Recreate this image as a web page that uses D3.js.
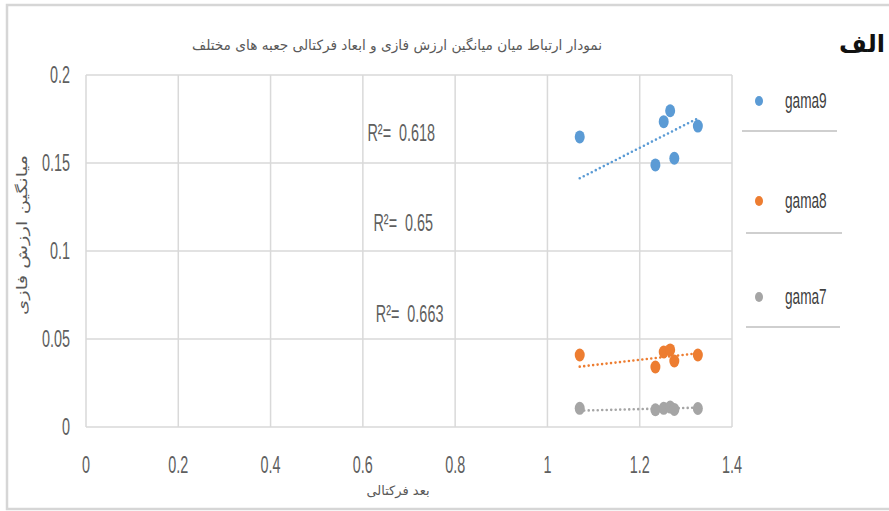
<!DOCTYPE html>
<html>
<head>
<meta charset="utf-8">
<script src="https://cdn.jsdelivr.net/npm/d3@7"></script>
<style>
  body { margin: 0; background: #fff; }
  svg { display: block; }
  .pre { white-space: pre; }
</style>
</head>
<body>
<div id="chart"></div>
<script>
// data
var seriesNames = ["gama9", "gama8", "gama7"];
var seriesColors = ["#5B9BD5", "#ED7D31", "#A5A5A5"];

var fractalDim = [1.070, 1.234, 1.252, 1.266, 1.275, 1.326];
var gama9 = [0.1648, 0.1489, 0.1735, 0.1797, 0.1527, 0.1710];
var gama8 = [0.0409, 0.0341, 0.0426, 0.0438, 0.0375, 0.0409];
var gama7 = [0.0106, 0.0098, 0.0106, 0.0113, 0.0100, 0.0105];

// trendline ends as drawn (x start/end, y start/end)
var trendX = [1.07, 1.326];
var trend9 = [0.1413, 0.1754];
var trend8 = [0.0343, 0.0419];
var trend7 = [0.0093, 0.0110];

var r2Labels = ["R²=  0.618", "R²=  0.65", "R²=  0.663"];
var r2Pos = [[0.61, 0.1675], [0.623, 0.116], [0.628, 0.0645]];

var xTicks = [0, 0.2, 0.4, 0.6, 0.8, 1, 1.2, 1.4];
var yTicks = [0, 0.05, 0.1, 0.15, 0.2];

var titleText = "نمودار ارتباط میان میانگین ارزش فازی و ابعاد فرکتالی جعبه های مختلف";
var xTitle = "بعد فرکتالی";
var yTitle = "میانگین ارزش فازی";
var cornerLabel = "الف";

var W = 889, H = 511;
var numFont = "'Liberation Sans', Arial, sans-serif";
var arFont = "'DejaVu Sans', sans-serif";

var x = d3.scaleLinear().domain([0, 1.4]).range([86, 732]);
var y = d3.scaleLinear().domain([0, 0.2]).range([427, 75]);

var svg = d3.select("#chart").append("svg")
  .attr("width", W)
  .attr("height", H);

// outer frame
svg.append("rect")
  .attr("x", 7).attr("y", 5)
  .attr("width", W + 10).attr("height", 504)
  .attr("fill", "#fff")
  .attr("stroke", "#d6d6d6")
  .attr("stroke-width", 2.5);

// condensed number text helper
function numText(g, tx, ty, str, anchor) {
  return g.append("text")
    .attr("class", "pre")
    .attr("transform", "translate(" + tx + "," + ty + ") scale(0.6,1)")
    .attr("text-anchor", anchor || "middle")
    .attr("dominant-baseline", "central")
    .attr("font-family", numFont)
    .attr("font-size", 24)
    .attr("fill", "#5f5f5f")
    .text(str);
}

// gridlines
var grid = svg.append("g");
grid.selectAll(".hgrid")
  .data(yTicks)
  .enter().append("line")
  .attr("class", "hgrid")
  .attr("x1", x(0)).attr("x2", x(1.4))
  .attr("y1", function(d) { return y(d); })
  .attr("y2", function(d) { return y(d); })
  .attr("stroke", "#d9d9d9")
  .attr("stroke-width", 1.5);

grid.selectAll(".vgrid")
  .data(xTicks)
  .enter().append("line")
  .attr("class", "vgrid")
  .attr("x1", function(d) { return x(d); })
  .attr("x2", function(d) { return x(d); })
  .attr("y1", y(0.2)).attr("y2", y(0))
  .attr("stroke", "#d9d9d9")
  .attr("stroke-width", 1.5);

// tick labels
var labels = svg.append("g");
yTicks.forEach(function(d) {
  numText(labels, 70, y(d), String(d), "end");
});
xTicks.forEach(function(d) {
  numText(labels, x(d), 465, String(d), "middle");
});

// trendlines
var trendData = [trend9, trend8, trend7];
var line = d3.line()
  .x(function(d) { return x(d[0]); })
  .y(function(d) { return y(d[1]); });

trendData.forEach(function(t, i) {
  svg.append("path")
    .datum([[trendX[0], t[0]], [trendX[1], t[1]]])
    .attr("d", line)
    .attr("fill", "none")
    .attr("stroke", seriesColors[i])
    .attr("stroke-width", 2.6)
    .attr("stroke-linecap", "round")
    .attr("stroke-dasharray", "0,4.5");
});

// points
var seriesData = [gama9, gama8, gama7];
seriesData.forEach(function(vals, i) {
  svg.append("g").selectAll("ellipse")
    .data(vals)
    .enter().append("ellipse")
    .attr("cx", function(d, j) { return x(fractalDim[j]); })
    .attr("cy", function(d) { return y(d); })
    .attr("rx", 5)
    .attr("ry", 6.5)
    .attr("fill", seriesColors[i]);
});

// R squared labels
r2Labels.forEach(function(s, i) {
  numText(svg, x(r2Pos[i][0]), y(r2Pos[i][1]), s, "start");
});

// legend
var legend = svg.append("g");
var legY = [100, 200, 296];
var legLineY = [131, 233, 327];
var legLineX = [[742, 837], [746, 842], [746, 840]];
seriesNames.forEach(function(name, i) {
  legend.append("ellipse")
    .attr("cx", 759).attr("cy", legY[i] + 1)
    .attr("rx", 4).attr("ry", 5)
    .attr("fill", seriesColors[i]);
  legend.append("text")
    .attr("transform", "translate(785," + legY[i] + ") scale(0.62,1)")
    .attr("dominant-baseline", "central")
    .attr("font-family", numFont)
    .attr("font-size", 22)
    .attr("fill", "#404040")
    .text(name);
  legend.append("line")
    .attr("x1", legLineX[i][0]).attr("x2", legLineX[i][1])
    .attr("y1", legLineY[i]).attr("y2", legLineY[i])
    .attr("stroke", "#bfbfbf")
    .attr("stroke-width", 1.5);
});

// titles
svg.append("text")
  .attr("x", 397).attr("y", 45)
  .attr("text-anchor", "middle")
  .attr("dominant-baseline", "central")
  .attr("direction", "rtl")
  .attr("font-family", arFont)
  .attr("font-size", 14)
  .attr("fill", "#595959")
  .attr("textLength", 410)
  .attr("lengthAdjust", "spacingAndGlyphs")
  .text(titleText);

svg.append("text")
  .attr("x", 398).attr("y", 490)
  .attr("text-anchor", "middle")
  .attr("dominant-baseline", "central")
  .attr("direction", "rtl")
  .attr("font-family", arFont)
  .attr("font-size", 13)
  .attr("fill", "#595959")
  .text(xTitle);

svg.append("text")
  .attr("transform", "translate(22,235) rotate(-90)")
  .attr("text-anchor", "middle")
  .attr("dominant-baseline", "central")
  .attr("direction", "rtl")
  .attr("font-family", arFont)
  .attr("font-size", 14)
  .attr("fill", "#595959")
  .attr("textLength", 160)
  .attr("lengthAdjust", "spacingAndGlyphs")
  .text(yTitle);

svg.append("text")
  .attr("x", 862).attr("y", 44)
  .attr("text-anchor", "middle")
  .attr("dominant-baseline", "central")
  .attr("font-family", arFont)
  .attr("font-size", 24)
  .attr("font-weight", "bold")
  .attr("fill", "#111")
  .text(cornerLabel);
</script>
</body>
</html>
